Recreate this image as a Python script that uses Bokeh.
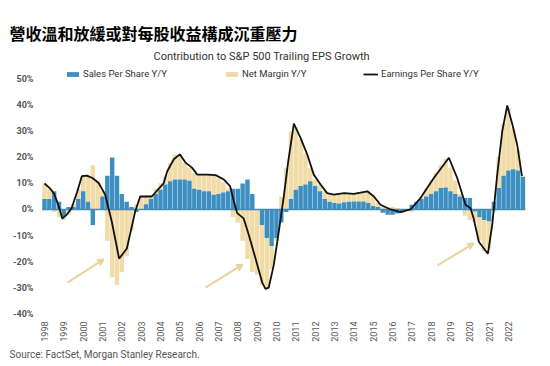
import math
from bokeh.plotting import figure
from bokeh.models import (ColumnDataSource, Range1d, FixedTicker, PrintfTickFormatter,
                          Legend, LegendItem, Title, Arrow, VeeHead)
from bokeh.embed import file_html
from bokeh.resources import INLINE

# ---------------- data ----------------
years = list(range(1998, 2023))
quarter_offsets = [0.0, 0.25, 0.5, 0.75]

# Sales per share Y/Y contribution (%), quarterly 1998Q1 .. 2022Q4
sales = [
    4, 4, 7, 3,            # 1998
    -3, 1, 1, 4,           # 1999
    7, 3, -6, 0,           # 2000
    5, 13, 20, 13,         # 2001
    6, 3, 1, -1,           # 2002
    0, 2, 4, 6,            # 2003
    7.6, 9.6, 10.9, 11.5,  # 2004
    11.5, 11.5, 11, 8,     # 2005
    7.6, 7, 7, 5.7,        # 2006
    6, 6.5, 7, 8,          # 2007
    8, 10, 11.5, 6,        # 2008
    0, -6, -11, -14,       # 2009
    -11, -5, -1, 4,        # 2010
    7.6, 9, 9.6, 10.9,     # 2011
    9, 7, 4, 3,            # 2012
    2.5, 2.3, 2.8, 3,      # 2013
    3.1, 3.1, 3.1, 2.5,    # 2014
    1.3, 1, -1.3, -2,      # 2015
    -2, -1.5, -1, -0.5,    # 2016
    1.8, 3, 4, 5,          # 2017
    6, 7, 8.3, 8.5,        # 2018
    7, 6, 5, 4.4,          # 2019
    4.4, -0.8, -3, -4,     # 2020
    -4.5, 3, 8.3, 13,      # 2021
    15, 15.5, 15, 12.5     # 2022
]

# Net margin Y/Y contribution (%)
margin = [
    6, 4, -1, -3,          # 1998
    -1, -2, 1, 4,          # 1999
    6, 10, 17, 11,         # 2000
    2, -12, -26, -29,      # 2001
    -24, -18, -8, 2,       # 2002
    5, 3, 1.5, 2,          # 2003
    2.5, 3.5, 7, 9.5,      # 2004
    9.5, 6.5, 5, 6,        # 2005
    5.8, 6.4, 6.3, 7.5,    # 2006
    6, 4, 1, -3,           # 2007
    -5, -12, -19, -24,     # 2008
    -25, -23, -19.5, -9,   # 2009
    -1, 5, 16, 26,         # 2010
    24, 18, 12, 5,         # 2011
    2.5, 2.6, 3, 3,        # 2012
    3.3, 3.7, 3.5, 3.2,    # 2013
    2.9, 3.2, 3.7, 4.5,    # 2014
    3.7, 1.5, 1, 1,        # 2015
    1, 0.5, -0.4, 0,       # 2016
    -1, 0, 1, 3,           # 2017
    5, 7, 8.7, 11,         # 2018
    9, 5, 1, -2.4,         # 2019
    -4, -4, -9, -12,       # 2020
    -10.5, -1, 12, 20,     # 2021
    24, 15.5, 8, 0.5       # 2022
]

# Earnings per share Y/Y (%), line
eps_t = [1998.0, 1998.3, 1998.5, 1998.75, 1998.92, 1999.15, 1999.4, 1999.7, 1999.93,
         2000.2, 2000.5, 2000.8, 2001.14, 2001.48, 2001.86, 2002.26, 2002.69, 2002.95,
         2003.55, 2004.16, 2004.35, 2004.69, 2005.0, 2005.3, 2005.64, 2005.9, 2006.42,
         2006.85, 2007.28, 2007.6, 2007.8, 2007.97, 2008.3, 2008.57, 2008.92, 2009.26,
         2009.43, 2009.6, 2009.86, 2010.12, 2010.38, 2010.6, 2010.9, 2011.24, 2011.59,
         2011.93, 2012.28, 2012.62, 2012.97, 2013.5, 2014.0, 2014.7, 2015.04, 2015.38,
         2015.9, 2016.42, 2016.93, 2017.45, 2018.14, 2018.92, 2019.35, 2019.78, 2020.04,
         2020.2, 2020.47, 2020.73, 2020.94, 2021.16, 2021.42, 2021.68, 2021.94, 2022.2,
         2022.45, 2022.7]
eps_v = [10, 8, 6, 1, -3.5, -2, 0.5, 7, 12.8,
         13, 12, 10.2, 5.7, -4.6, -18.9, -15, -0.8, 5,
         5, 10, 14.7, 19.3, 21.2, 18, 16, 13.4, 13.4,
         13.2, 11.5, 9, 3, -1.4, -3.4, -9.8, -18.9, -28,
         -30.5, -30, -21.4, -8.5, 5, 18, 33, 27.6, 21.2,
         13.4, 9.6, 6.3, 5.7, 6.3, 6, 7, 5, 1.8,
         0, -1, 0, 4.4, 12.1, 19.9, 12.1, 1.8, 0.5,
         -3.4, -12.4, -15, -17, -6, 13.4, 30, 40, 32.8,
         25, 12.8]

y_ticks = [-40, -30, -20, -10, 0, 10, 20, 30, 40, 50]

# annotation arrows (tail x, tail y, head x, head y) in data units
arrow_x0 = [1999.19, 2006.33, 2018.33]
arrow_y0 = [-28.1, -30.0, -21.5]
arrow_x1 = [2001.05, 2008.24, 2020.19]
arrow_y1 = [-19.2, -21.2, -13.1]

title_text = "營收溫和放緩或對每股收益構成沉重壓力"
chart_title = "Contribution to S&P 500 Trailing EPS Growth"
source_text = "Source: FactSet, Morgan Stanley Research."

# ---------------- derived stacking ----------------
qx = [y + q for y in years for q in quarter_offsets]
tan_bottom, tan_top = [], []
for s, m in zip(sales, margin):
    if s * m > 0:
        tan_bottom.append(s)
        tan_top.append(s + m)
    else:
        tan_bottom.append(0)
        tan_top.append(m)

src = ColumnDataSource(dict(x=qx, s=sales, tb=tan_bottom, tt=tan_top))

BLUE = "#3d8fc2"
TAN = "#f1dba6"
FONT = "Roboto"

p = figure(width=546, height=362, output_backend="svg", toolbar_location=None,
           x_range=Range1d(1997.793, 2022.935), y_range=Range1d(-41.9, 56.5),
           min_border_left=40, min_border_right=20, min_border_top=62, min_border_bottom=44)
p.outline_line_color = None
p.grid.visible = False
p.background_fill_color = "white"
p.border_fill_color = "white"

bw = 0.23
r_tan = p.vbar(x="x", bottom="tb", top="tt", width=bw, source=src,
               fill_color=TAN, line_color=None)
r_blue = p.vbar(x="x", bottom=0, top="s", width=bw, source=src,
                fill_color=BLUE, line_color=None)

x_lo = min(qx) - bw / 2
x_hi = max(qx) + bw / 2
p.line([x_lo, x_hi], [0, 0], line_color="#4a88b0", line_width=1.5)

r_eps = p.line(eps_t, eps_v, line_color="#111111", line_width=1.8)

for a, b, c, d in zip(arrow_x0, arrow_y0, arrow_x1, arrow_y1):
    p.add_layout(Arrow(x_start=a, y_start=b, x_end=c, y_end=d,
                       line_color="#ead39a", line_width=2,
                       end=VeeHead(size=6, line_color="#ead39a", line_width=2)))

# axes
ya = p.yaxis[0]
ya.ticker = FixedTicker(ticks=y_ticks)
ya.formatter = PrintfTickFormatter(format="%d%%")
ya.axis_line_color = None
ya.major_tick_line_color = None
ya.minor_tick_line_color = None
ya.major_tick_out = 0
ya.major_tick_in = 0
ya.major_label_standoff = 7
ya.major_label_text_font = FONT
ya.major_label_text_font_size = "9px"
ya.major_label_text_font_style = "bold"
ya.major_label_text_color = "#555555"

xa = p.xaxis[0]
xa.ticker = FixedTicker(ticks=years)
xa.formatter = PrintfTickFormatter(format="%d")
xa.axis_line_color = None
xa.major_tick_line_color = None
xa.minor_tick_line_color = None
xa.major_tick_out = 0
xa.major_tick_in = 0
xa.major_label_standoff = 3
xa.major_label_orientation = math.pi / 2
xa.major_label_text_font = FONT
xa.major_label_text_font_size = "9px"
xa.major_label_text_color = "#555555"

# legends
def make_legend(label, rend, x, y):
    lg = Legend(items=[LegendItem(label=label, renderers=[rend])], location=(x, y),
                padding=0, margin=0, spacing=0, border_line_color=None,
                background_fill_alpha=0, glyph_width=15, glyph_height=6,
                label_height=8, label_standoff=3,
                label_text_font=FONT, label_text_font_size="9.5px",
                label_text_color="#333333")
    p.add_layout(lg)

make_legend("Sales Per Share Y/Y", r_blue, 25, 239)
make_legend("Net Margin Y/Y", r_tan, 184, 239)
make_legend("Earnings Per Share Y/Y", r_eps, 323, 239)

# titles / source
p.add_layout(Title(text=chart_title, align="left", offset=113, standoff=0,
                   text_font=FONT, text_font_size="11px", text_font_style="normal",
                   text_color="#333333"), "above")
p.add_layout(Title(text=title_text, align="left", offset=-31, standoff=5,
                   text_font="Noto Sans CJK TC", text_font_size="16px",
                   text_font_style="bold", text_color="#000000"), "above")
p.add_layout(Title(text=source_text, align="left", offset=-31, standoff=4,
                   text_font=FONT, text_font_size="10px", text_font_style="normal",
                   text_color="#555555"), "below")

open("out.html", "w").write(file_html(p, INLINE))
